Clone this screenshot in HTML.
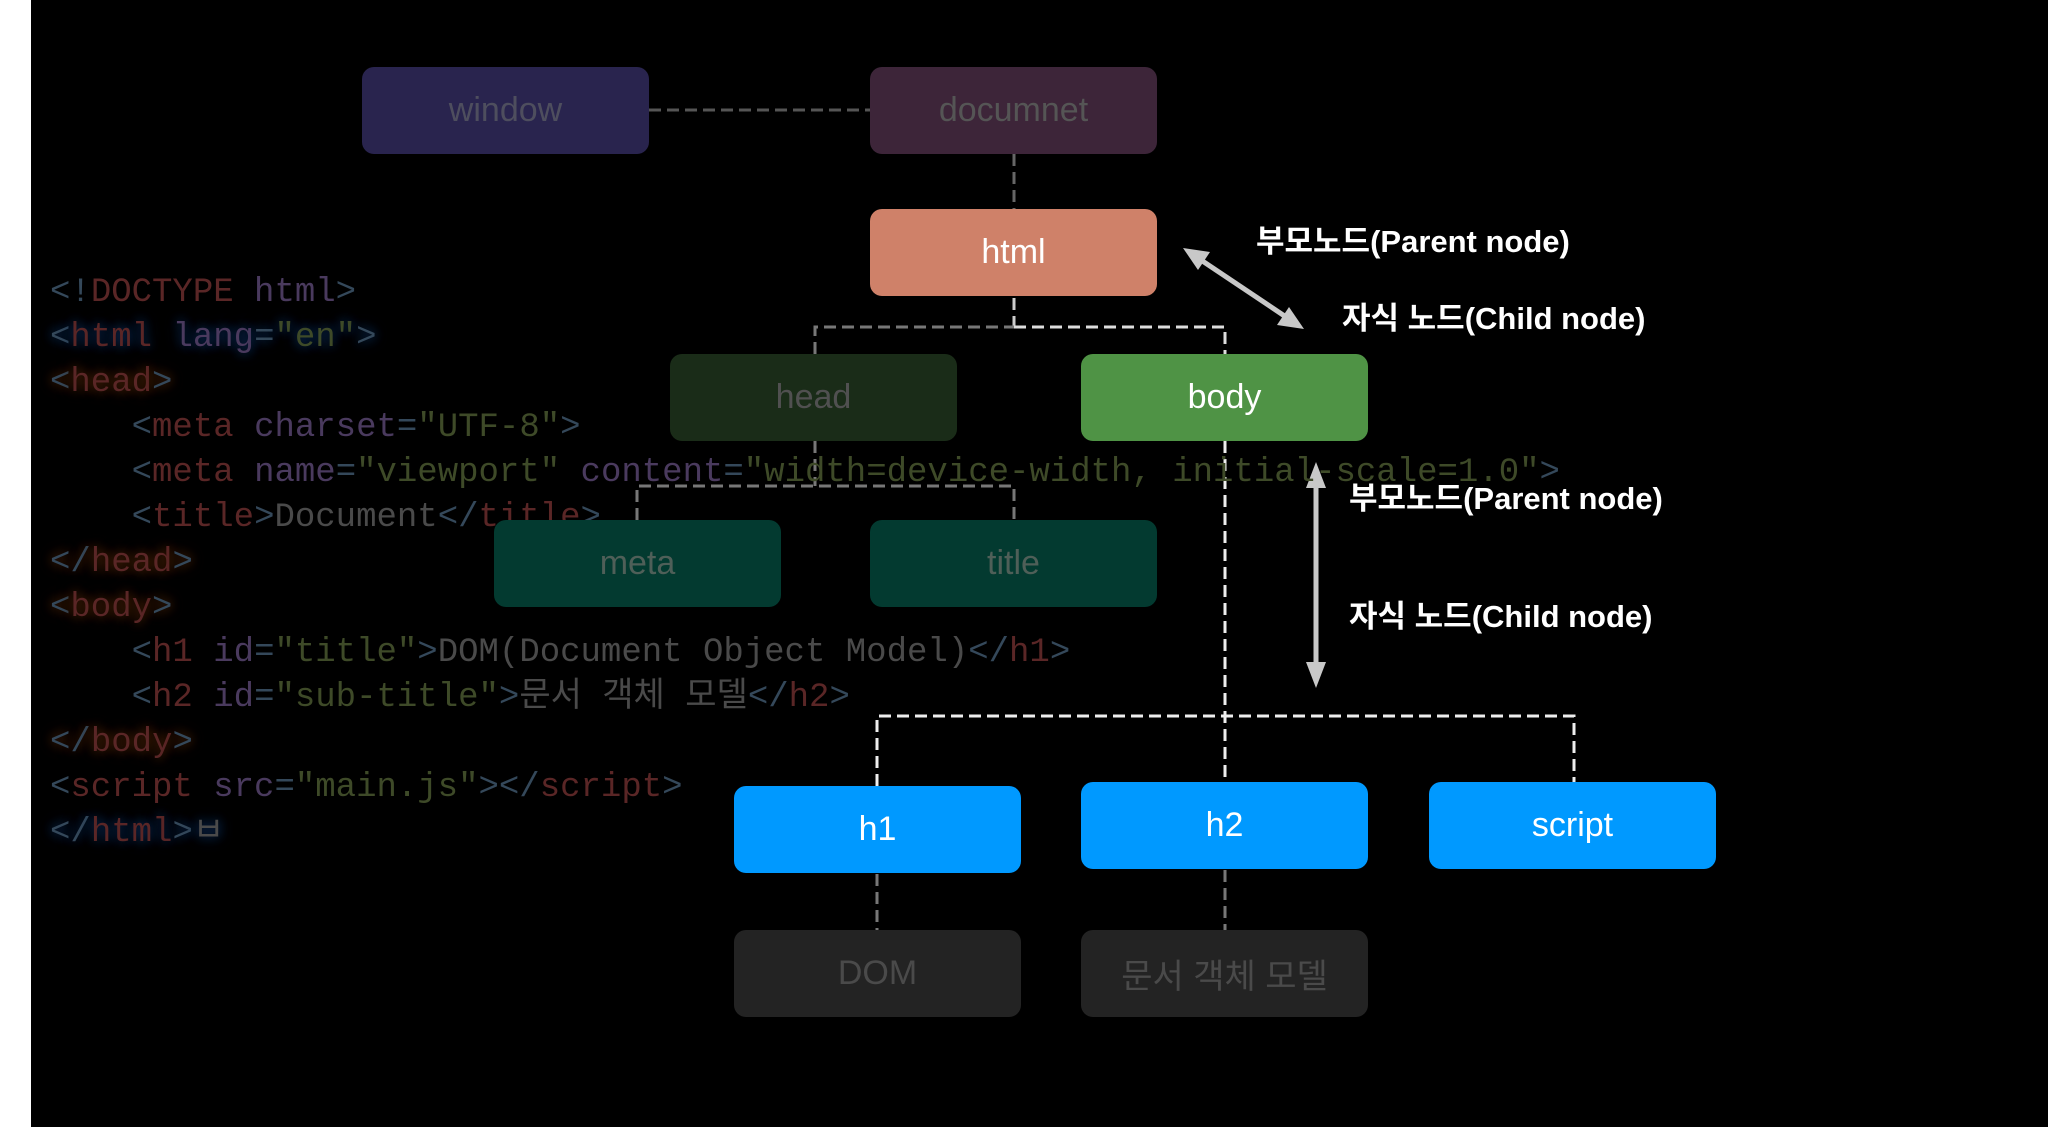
<!DOCTYPE html>
<html><head><meta charset="utf-8">
<style>
html,body{margin:0;padding:0}
body{width:2048px;height:1127px;background:#000;position:relative;overflow:hidden;font-family:"Liberation Sans","Noto Sans CJK KR",sans-serif}
#strip{position:absolute;left:0;top:0;width:31px;height:1127px;background:#fff}
svg{position:absolute;left:0;top:0}
.b{position:absolute;width:287px;height:87px;border-radius:12px;display:flex;align-items:center;justify-content:center;font-size:34px;color:#fff}
.code{position:absolute;left:50px;top:271px;font-family:"Liberation Mono","Noto Sans CJK KR",monospace;font-size:34px;line-height:45px;white-space:pre;color:#4a4a4a}
.p{color:#34485a}.t{color:#5a2626}.a{color:#4a3a5e}.s{color:#3e4a28}
.gb{text-shadow:0 0 10px #0c2a55,0 0 16px #0c2a55}
.go{text-shadow:0 0 10px #4a2208,0 0 16px #4a2208}
.lbl{position:absolute;color:#fff;font-weight:bold;font-size:31px;white-space:nowrap}
</style></head><body>
<div id="strip"></div>
<svg width="2048" height="1127">
<g fill="none" stroke-width="3" stroke-dasharray="12 6">
<line x1="649" y1="110" x2="870" y2="110" stroke="#555"/>
<line x1="1014" y1="154" x2="1014" y2="209" stroke="#666"/>
<line x1="1014" y1="298" x2="1014" y2="327" stroke="#ccc"/>
<polyline points="815,354 815,327 1014,327" stroke="#777"/>
<polyline points="1014,327 1225,327 1225,354" stroke="#ddd"/>
<line x1="815" y1="441" x2="815" y2="486" stroke="#777"/>
<polyline points="637,520 637,486 1014,486 1014,520" stroke="#777"/>
<line x1="1225" y1="441" x2="1225" y2="782" stroke="#eee"/>
<polyline points="877,786 877,716 1574,716 1574,782" stroke="#eee"/>
<line x1="877" y1="874" x2="877" y2="930" stroke="#777"/>
<line x1="1225" y1="870" x2="1225" y2="930" stroke="#777"/>
</g>
<g stroke="#c8c8c8" stroke-width="5" fill="#c8c8c8">
<line x1="1195" y1="256" x2="1292" y2="321"/>
<polygon points="1183,248 1210,252 1198,270" stroke="none"/>
<polygon points="1304,329 1277,325 1289,307" stroke="none"/>
<line x1="1316" y1="478" x2="1316" y2="672"/>
<polygon points="1316,462 1306,488 1326,488" stroke="none"/>
<polygon points="1316,688 1306,662 1326,662" stroke="none"/>
</g>
</svg>
<div class="code"><span class="p">&lt;!</span><span class="t">DOCTYPE</span> <span class="a">html</span><span class="p">&gt;</span>
<span class="gb"><span class="p">&lt;</span><span class="t">html</span> <span class="a">lang</span><span class="p">=</span><span class="s">"en"</span><span class="p">&gt;</span></span>
<span class="go"><span class="p">&lt;</span><span class="t">head</span><span class="p">&gt;</span></span>
    <span class="p">&lt;</span><span class="t">meta</span> <span class="a">charset</span><span class="p">=</span><span class="s">"UTF-8"</span><span class="p">&gt;</span>
    <span class="p">&lt;</span><span class="t">meta</span> <span class="a">name</span><span class="p">=</span><span class="s">"viewport"</span> <span class="a">content</span><span class="p">=</span><span class="s">"width=device-width, initial-scale=1.0"</span><span class="p">&gt;</span>
    <span class="p">&lt;</span><span class="t">title</span><span class="p">&gt;</span>Document<span class="p">&lt;/</span><span class="t">title</span><span class="p">&gt;</span>
<span class="go"><span class="p">&lt;/</span><span class="t">head</span><span class="p">&gt;</span></span>
<span class="go"><span class="p">&lt;</span><span class="t">body</span><span class="p">&gt;</span></span>
    <span class="p">&lt;</span><span class="t">h1</span> <span class="a">id</span><span class="p">=</span><span class="s">"title"</span><span class="p">&gt;</span>DOM(Document Object Model)<span class="p">&lt;/</span><span class="t">h1</span><span class="p">&gt;</span>
    <span class="p">&lt;</span><span class="t">h2</span> <span class="a">id</span><span class="p">=</span><span class="s">"sub-title"</span><span class="p">&gt;</span>문서 객체 모델<span class="p">&lt;/</span><span class="t">h2</span><span class="p">&gt;</span>
<span class="go"><span class="p">&lt;/</span><span class="t">body</span><span class="p">&gt;</span></span>
<span class="p">&lt;</span><span class="t">script</span> <span class="a">src</span><span class="p">=</span><span class="s">"main.js"</span><span class="p">&gt;&lt;/</span><span class="t">script</span><span class="p">&gt;</span>
<span class="gb"><span class="p">&lt;/</span><span class="t">html</span><span class="p">&gt;</span>ㅂ</span></div>
<div class="b" style="left:362px;top:67px;background:#29244e;color:#4e4e5e">window</div>
<div class="b" style="left:870px;top:67px;background:#3d2539;color:#555">documnet</div>
<div class="b" style="left:870px;top:209px;background:#cf8169">html</div>
<div class="b" style="left:670px;top:354px;background:#1a2c18;color:#505050">head</div>
<div class="b" style="left:1081px;top:354px;background:#4f9345">body</div>
<div class="b" style="left:494px;top:520px;background:#033a30;color:#4f5f58">meta</div>
<div class="b" style="left:870px;top:520px;background:#033a30;color:#4f5f58">title</div>
<div class="b" style="left:734px;top:786px;background:#0099ff">h1</div>
<div class="b" style="left:1081px;top:782px;background:#0099ff">h2</div>
<div class="b" style="left:1429px;top:782px;background:#0099ff">script</div>
<div class="b" style="left:734px;top:930px;background:#232323;color:#4a4a4a">DOM</div>
<div class="b" style="left:1081px;top:930px;background:#232323;color:#4a4a4a">문서 객체 모델</div>
<div class="lbl" style="left:1256px;top:216px">부모노드(Parent node)</div>
<div class="lbl" style="left:1342px;top:293px">자식 노드(Child node)</div>
<div class="lbl" style="left:1349px;top:473px">부모노드(Parent node)</div>
<div class="lbl" style="left:1349px;top:591px">자식 노드(Child node)</div>
</body></html>
